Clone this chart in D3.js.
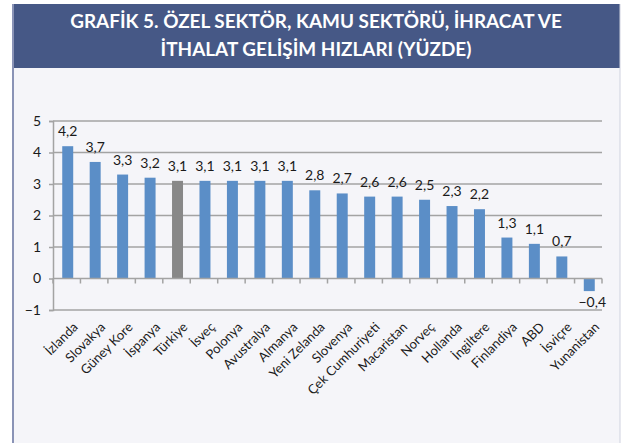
<!DOCTYPE html>
<html lang="tr">
<head>
<meta charset="utf-8">
<title>Grafik 5</title>
<script src="https://cdn.jsdelivr.net/npm/d3@7"></script>
<style>
  body { margin: 0; background: #fff; }
  text { font-family: Lato, "Open Sans", sans-serif; }
</style>
</head>
<body>
<script>
  // data
  var countries = ["İzlanda", "Slovakya", "Güney Kore", "İspanya", "Türkiye", "İsveç", "Polonya",
                   "Avustralya", "Almanya", "Yeni Zelanda", "Slovenya", "Çek Cumhuriyeti", "Macaristan",
                   "Norveç", "Hollanda", "İngiltere", "Finlandiya", "ABD", "İsviçre", "Yunanistan"];
  var values = [4.2, 3.7, 3.3, 3.2, 3.1, 3.1, 3.1, 3.1, 3.1, 2.8, 2.7, 2.6, 2.6, 2.5, 2.3, 2.2, 1.3, 1.1, 0.7, -0.4];
  var yTicks = [-1, 0, 1, 2, 3, 4, 5];
  var titleLines = ["GRAFİK 5. ÖZEL SEKTÖR, KAMU SEKTÖRÜ, İHRACAT VE",
                    "İTHALAT GELİŞİM HIZLARI (YÜZDE)"];

  var w = 621, h = 443;
  var data = countries.map(function(c, i) { return { name: c, value: values[i] }; });

  var svg = d3.select("body").append("svg")
      .attr("width", w)
      .attr("height", h);

  // panel + banner
  svg.append("rect").attr("x", 12).attr("y", 4).attr("width", 608).attr("height", h - 4)
      .attr("fill", "#f5f5f9");
  svg.append("rect").attr("x", 12).attr("y", 4).attr("width", 608).attr("height", 64)
      .attr("fill", "#465886");
  svg.append("line").attr("x1", 13).attr("x2", 13).attr("y1", 4).attr("y2", h)
      .attr("stroke", "#8a93b6").attr("stroke-width", 2);
  svg.append("line").attr("x1", 620).attr("x2", 620).attr("y1", 4).attr("y2", h)
      .attr("stroke", "#cfd2df").attr("stroke-width", 1);

  // title: bold font squeezed horizontally (condensed look), same squeeze for both lines
  var titleG = svg.append("g");
  var titles = titleG.selectAll(".title")
      .data(titleLines)
      .enter()
      .append("text")
      .attr("class", "title")
      .attr("x", 0)
      .attr("y", function(d, i) { return 28 + i * 28; })
      .attr("text-anchor", "middle")
      .attr("fill", "#fff")
      .attr("font-family", "'Open Sans', sans-serif")
      .attr("font-weight", "bold")
      .attr("font-size", 19)
      .text(function(d) { return d; });
  var natural = titles.node().getComputedTextLength();
  var sx = 492 / natural;
  titleG.attr("transform", "translate(316,0) scale(" + sx + ",1)");

  var left = 53, right = 602;

  var xScale = d3.scaleBand()
      .domain(countries)
      .range([left + 1, right + 1])
      .paddingInner(0.6)
      .paddingOuter(0.3);

  var yScale = d3.scaleLinear()
      .domain([-1, 5])
      .range([310, 121]);

  var grid = "#a3a3a3";

  // gridlines
  svg.selectAll(".grid")
      .data(yTicks.filter(function(d) { return d !== 0; }))
      .enter()
      .append("line")
      .attr("x1", left).attr("x2", right)
      .attr("y1", function(d) { return yScale(d); })
      .attr("y2", function(d) { return yScale(d); })
      .attr("stroke", grid)
      .attr("stroke-width", 1.5);

  // y axis
  var yAxis = d3.axisLeft(yScale)
      .tickValues(yTicks)
      .tickSize(4)
      .tickPadding(8)
      .tickFormat(d3.format("d"));

  var gy = svg.append("g")
      .attr("transform", "translate(" + left + ",0)")
      .call(yAxis);
  gy.select(".domain").attr("stroke", grid).attr("stroke-width", 1.5);
  gy.selectAll(".tick line").attr("stroke", grid).attr("stroke-width", 1.5);
  gy.selectAll(".tick text")
      .attr("font-family", "Lato, sans-serif")
      .attr("font-size", 14)
      .attr("fill", "#1a1a1a");

  // bars
  svg.selectAll(".bar")
      .data(data)
      .enter()
      .append("rect")
      .attr("class", "bar")
      .attr("x", function(d) { return xScale(d.name); })
      .attr("width", xScale.bandwidth())
      .attr("y", function(d) { return yScale(Math.max(0, d.value)); })
      .attr("height", function(d) { return Math.abs(yScale(d.value) - yScale(0)); })
      .attr("fill", function(d) { return d.name === "Türkiye" ? "#888888" : "#5b8ec7"; });

  // category axis at zero
  var y0 = yScale(0);
  svg.append("line")
      .attr("x1", left).attr("x2", right)
      .attr("y1", y0).attr("y2", y0)
      .attr("stroke", grid).attr("stroke-width", 1.5);

  var step = xScale.step();
  svg.selectAll(".xtick")
      .data(d3.range(countries.length + 1))
      .enter()
      .append("line")
      .attr("x1", function(i) { return left + i * step; })
      .attr("x2", function(i) { return left + i * step; })
      .attr("y1", y0).attr("y2", y0 + 5)
      .attr("stroke", grid).attr("stroke-width", 1.5);

  // value labels
  svg.selectAll(".val")
      .data(data)
      .enter()
      .append("text")
      .attr("x", function(d) { return xScale(d.name) + xScale.bandwidth() / 2 + (d.value < 0 ? 3 : 0); })
      .attr("y", function(d) {
        return d.value >= 0 ? yScale(d.value) - 10 : yScale(d.value) + 16;
      })
      .attr("text-anchor", "middle")
      .attr("font-size", 14)
      .attr("fill", "#1a1a1a")
      .text(function(d) { return d3.format(".1f")(d.value).replace(".", ","); });

  // rotated category labels
  svg.selectAll(".xlab")
      .data(data)
      .enter()
      .append("text")
      .attr("transform", function(d) {
        var cx = xScale(d.name) + xScale.bandwidth() / 2;
        return "translate(" + (cx + 4) + "," + 321 + ") rotate(-45)";
      })
      .attr("dy", "0.75em")
      .attr("text-anchor", "end")
      .attr("font-size", 13)
      .attr("fill", "#1a1a1a")
      .text(function(d) { return d.name; });
</script>
</body>
</html>
